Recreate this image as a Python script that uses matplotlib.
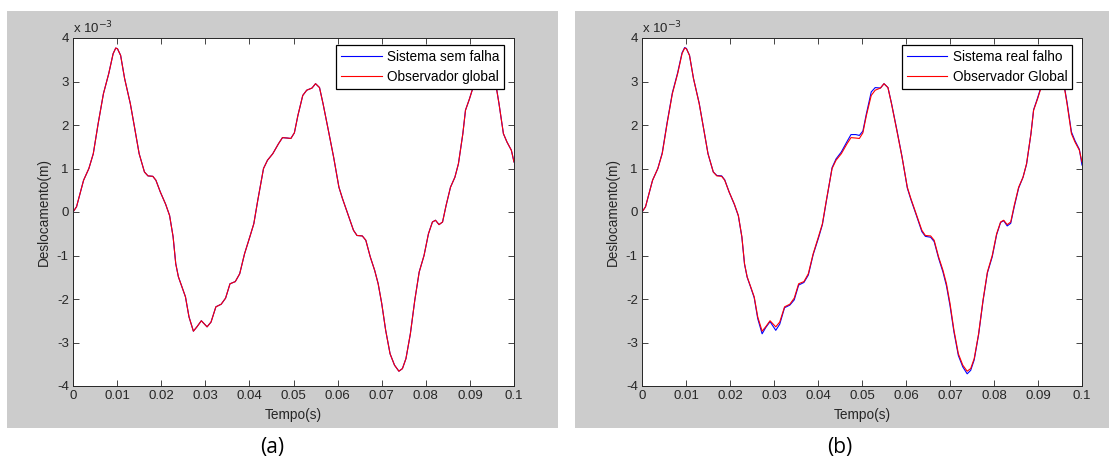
import numpy as np
import matplotlib
matplotlib.use("Agg")
import matplotlib.pyplot as plt
from matplotlib.patches import Rectangle

plt.rcParams['font.family'] = ['Liberation Sans', 'DejaVu Sans']
plt.rcParams['axes.unicode_minus'] = False

# ───────── DATA (deslocamento em unidades de 1e-3 m) ─────────
tempo = [0.0, 0.0008, 0.0024, 0.0036, 0.0046, 0.0057, 0.0069, 0.0081, 0.0091, 0.0097,
         0.0101, 0.0108, 0.0117, 0.013, 0.014, 0.015, 0.0162, 0.017, 0.0181, 0.0188,
         0.0198, 0.021, 0.0219, 0.0227, 0.0233, 0.0239, 0.0247, 0.0255, 0.0263, 0.0273,
         0.0281, 0.0291, 0.0304, 0.0313, 0.0324, 0.0336, 0.0346, 0.0356, 0.0368, 0.0378,
         0.0389, 0.0401, 0.041, 0.0419, 0.0432, 0.0441, 0.0453, 0.0466, 0.0475, 0.0486,
         0.0494, 0.0502, 0.051, 0.0521, 0.053, 0.0542, 0.055, 0.0559, 0.0567, 0.0579,
         0.0591, 0.0603, 0.0611, 0.0623, 0.0636, 0.0644, 0.0656, 0.0664, 0.0674, 0.0684,
         0.0692, 0.07, 0.0709, 0.0719, 0.0729, 0.0739, 0.0747, 0.0755, 0.0765, 0.0775,
         0.0785, 0.0796, 0.0806, 0.0815, 0.0822, 0.083, 0.0838, 0.0846, 0.0856, 0.0866,
         0.0874, 0.0884, 0.089, 0.0899, 0.0907, 0.0918, 0.093, 0.0942, 0.0953, 0.096,
         0.0966, 0.0976, 0.0984, 0.0994, 0.1]

observador = [0.0, 0.12, 0.73, 1.0, 1.34, 2.03, 2.72, 3.18, 3.64, 3.77,
              3.75, 3.6, 3.07, 2.49, 1.92, 1.34, 0.92, 0.83, 0.82, 0.73,
              0.46, 0.18, -0.08, -0.57, -1.19, -1.49, -1.72, -1.95, -2.41, -2.74,
              -2.64, -2.5, -2.64, -2.53, -2.18, -2.12, -1.98, -1.65, -1.6, -1.42,
              -0.96, -0.57, -0.27, 0.27, 1.0, 1.19, 1.34, 1.57, 1.71, 1.7,
              1.69, 1.82, 2.22, 2.68, 2.8, 2.85, 2.95, 2.86, 2.49, 1.88,
              1.26, 0.57, 0.31, -0.04, -0.42, -0.54, -0.55, -0.65, -1.03, -1.34,
              -1.65, -2.1, -2.72, -3.26, -3.52, -3.66, -3.6, -3.37, -2.8, -2.03,
              -1.38, -1.0, -0.5, -0.23, -0.19, -0.29, -0.23, 0.15, 0.57, 0.8,
              1.11, 1.8, 2.34, 2.6, 2.86, 3.1, 3.2, 3.15, 3.0, 2.86,
              2.49, 1.8, 1.61, 1.42, 1.15]

sem_falha = list(observador)

real_falho = [0.0, 0.12, 0.73, 1.0, 1.36, 2.05, 2.74, 3.2, 3.66, 3.78,
              3.76, 3.6, 3.07, 2.5, 1.92, 1.34, 0.92, 0.84, 0.83, 0.74,
              0.46, 0.17, -0.09, -0.58, -1.2, -1.5, -1.73, -1.97, -2.45, -2.8,
              -2.66, -2.52, -2.72, -2.58, -2.2, -2.14, -2.02, -1.68, -1.62, -1.45,
              -0.98, -0.6, -0.29, 0.25, 1.02, 1.22, 1.38, 1.62, 1.78, 1.78,
              1.76, 1.86, 2.26, 2.76, 2.86, 2.85, 2.95, 2.86, 2.5, 1.9,
              1.27, 0.55, 0.29, -0.06, -0.45, -0.56, -0.58, -0.68, -1.06, -1.38,
              -1.7, -2.15, -2.76, -3.3, -3.56, -3.72, -3.64, -3.4, -2.82, -2.05,
              -1.4, -1.03, -0.52, -0.24, -0.2, -0.32, -0.26, 0.12, 0.55, 0.8,
              1.1, 1.8, 2.35, 2.62, 2.88, 3.1, 3.2, 3.15, 3.0, 2.88,
              2.52, 1.84, 1.64, 1.44, 1.08]

xticks = [0, 0.01, 0.02, 0.03, 0.04, 0.05, 0.06, 0.07, 0.08, 0.09, 0.1]
xticklabels = ['0', '0.01', '0.02', '0.03', '0.04', '0.05', '0.06', '0.07', '0.08', '0.09', '0.1']
yticks = [-4, -3, -2, -1, 0, 1, 2, 3, 4]

W, H = 1115, 462
fig = plt.figure(figsize=(W / 100, H / 100), dpi=100)


def px(x0, y0, x1, y1):
    # pixel box (top-down) -> figure fraction
    return [x0 / W, 1 - y1 / H, (x1 - x0) / W, (y1 - y0) / H]


def painel(gray_box, ax_box, serie_azul, serie_vermelha, labels, tag, tag_x):
    g = px(*gray_box)
    rect = Rectangle((g[0], g[1]), g[2], g[3], transform=fig.transFigure,
                     facecolor='#cccccc', edgecolor='none', zorder=-10)
    fig.add_artist(rect)
    ax = fig.add_axes(px(*ax_box))
    ax.set_zorder(1)
    ax.plot(tempo, serie_azul, color='#0000ff', lw=0.8, label=labels[0])
    ax.plot(tempo, serie_vermelha, color='#ff0000', lw=0.8, label=labels[1])
    ax.set_xlim(0, 0.1)
    ax.set_ylim(-4, 4)
    ax.set_xticks(xticks)
    ax.set_xticklabels(xticklabels)
    ax.set_yticks(yticks)
    ax.tick_params(direction='in', length=4, width=0.6, top=True, right=True,
                   labelsize=9.5, pad=3, colors='#262626')
    for s in ax.spines.values():
        s.set_linewidth(0.7)
        s.set_color('#262626')
    ax.set_xlabel('Tempo(s)', fontsize=9.8, labelpad=4, color='#262626')
    ax.set_ylabel('Deslocamento(m)', fontsize=9.8, labelpad=4, color='#262626')
    ax.text(0.0, 1.005, r'x 10$^{-3}$', transform=ax.transAxes, fontsize=9.5,
            ha='left', va='bottom', color='#262626')
    leg = ax.legend(loc='upper right', bbox_to_anchor=(0.978, 0.98), fontsize=9.8,
                    fancybox=False, framealpha=1, edgecolor='black', handlelength=3.0,
                    handletextpad=0.4, borderpad=0.35, labelspacing=0.45,
                    borderaxespad=0)
    leg.get_frame().set_linewidth(0.9)
    fig.text(tag_x / W, 1 - 447 / H, tag, fontsize=15, ha='center', va='center',
             family=['Open Sans', 'DejaVu Sans'])
    return ax


painel((7, 11, 558, 428), (73, 38, 514, 386), sem_falha, observador,
       ['Sistema sem falha', 'Observador global'], '(a)', 272)
painel((575, 11, 1109, 428), (642, 38, 1082, 386), real_falho, observador,
       ['Sistema real falho', 'Observador Global'], '(b)', 840)

fig.savefig('out.png', dpi=100, facecolor='white')
